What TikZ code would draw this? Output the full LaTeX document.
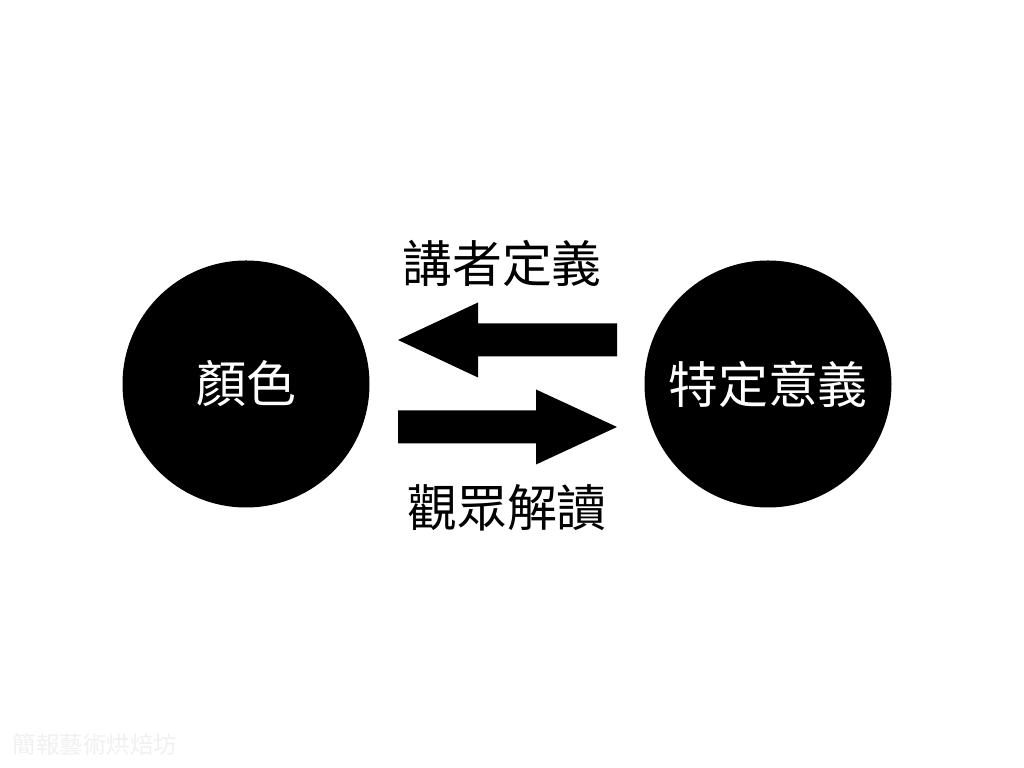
\documentclass[tikz,border=0pt]{standalone}
\usepackage{fontspec}
\setmainfont{Noto Sans CJK TC}
\usepackage{tikz}
\usetikzlibrary{positioning, calc}

\begin{document}
\begin{tikzpicture}[
    circ/.style={circle, fill=black, text=white, minimum size=2.47cm, inner sep=0pt, font=\fontsize{14.2pt}{16pt}\selectfont},
    lbl/.style={text=black, inner sep=0pt, font=\fontsize{14.2pt}{16pt}\selectfont},
    blockarrow/.style={fill=black}
]
\useasboundingbox (0,0) rectangle (10.24,7.68);
\node[circ] (colour) at (2.46,3.84) {顏色};
\node[circ] (meaning) at (7.68,3.84) {特定意義};
\node[lbl] (speaker) at (5.02,5.05) {講者定義};
\node[lbl] (audience) at (5.07,2.60) {觀眾解讀};
\node[text=gray!12, inner sep=0pt, font=\fontsize{6.7pt}{8pt}\selectfont] (mark) at (0.95,0.23) {簡報藝術烘焙坊};

% block arrows between the circles
\coordinate (ltip) at (3.98,4.28);
\coordinate (rtip) at (6.17,3.41);
\fill[blockarrow] (ltip) -- ++(0.80,0.375) -- ++(0,-0.21) -- ++(1.39,0) -- ++(0,-0.33) -- ++(-1.39,0) -- ++(0,-0.21) -- cycle;
\fill[blockarrow] (rtip) -- ++(-0.81,0.375) -- ++(0,-0.21) -- ++(-1.38,0) -- ++(0,-0.33) -- ++(1.38,0) -- ++(0,-0.21) -- cycle;
\end{tikzpicture}
\end{document}
